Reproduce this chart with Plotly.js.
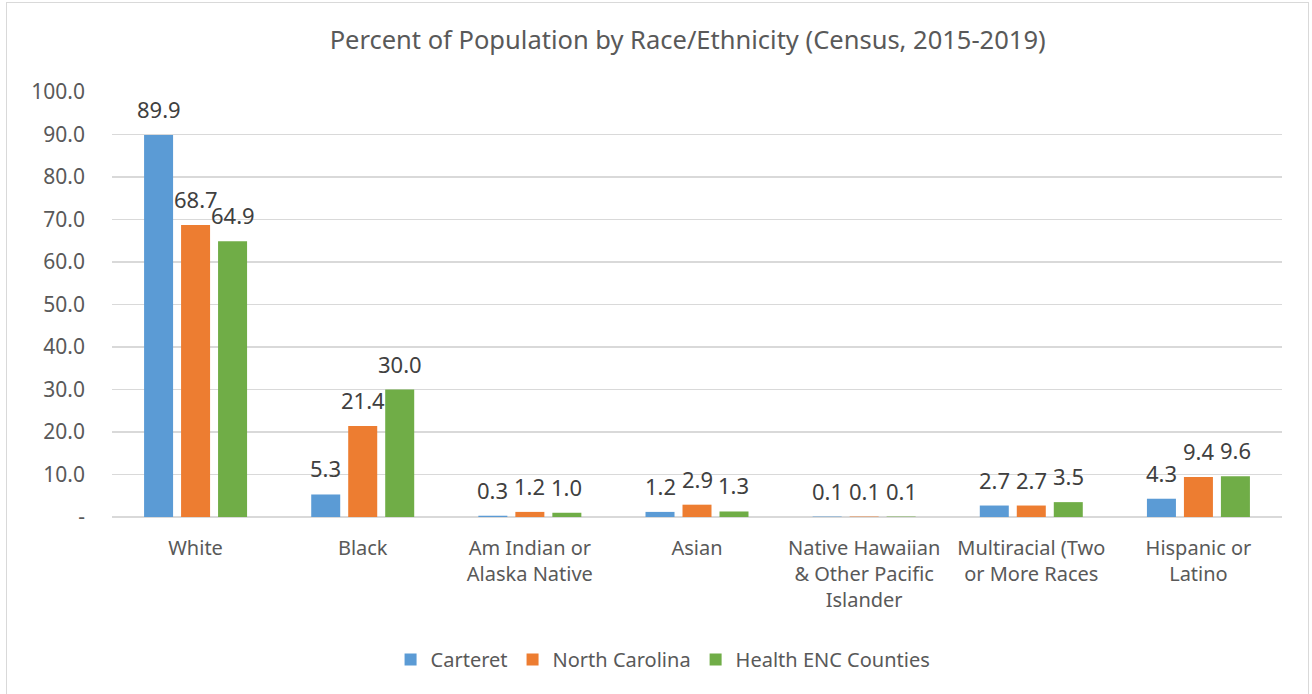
<!DOCTYPE html>
<html><head><meta charset="utf-8">
<script src="https://cdn.plot.ly/plotly-3.0.1.min.js"></script>
<style>
html,body{margin:0;padding:0;background:#fff;overflow:hidden}
#chart{width:1312px;height:694px}
#frame{position:absolute;left:6px;top:2px;width:1301px;height:720px;border:1.5px solid #d9d9d9;pointer-events:none}
</style></head>
<body>
<div id="chart"></div>
<div id="frame"></div>
<script>
const categories = ["White","Black","Am Indian or<br>Alaska Native","Asian","Native Hawaiian<br>& Other Pacific<br>Islander","Multiracial (Two<br>or More Races","Hispanic or<br>Latino"];
const carteret = [89.9, 5.3, 0.3, 1.2, 0.1, 2.7, 4.3];
const northCarolina = [68.7, 21.4, 1.2, 2.9, 0.1, 2.7, 9.4];
const healthENC = [64.9, 30.0, 1.0, 1.3, 0.1, 3.5, 9.6];
const seriesNames = ["Carteret","North Carolina","Health ENC Counties"];
const tickVals = [0,10,20,30,40,50,60,70,80,90,100];
const tickText = ["-","10.0","20.0","30.0","40.0","50.0","60.0","70.0","80.0","90.0","100.0"];
const colors = ["#5b9bd5","#ed7d31","#70ad47"];

const font = "Noto Sans, Open Sans, sans-serif";
const bargap = 0.336;
const series = [carteret, northCarolina, healthENC];
const traces = series.map((vals,i)=>({
  type:"bar", name:seriesNames[i], x:categories, y:vals,
  marker:{color:colors[i]}, hoverinfo:"skip"
}));

const slot = (1-bargap)/series.length;
const annotations = [];
series.forEach((vals,i)=>{
  vals.forEach((v,j)=>{
    annotations.push({
      x: j + (i-(series.length-1)/2)*slot, y: v, xref:"x", yref:"y",
      text: v.toFixed(1), showarrow:false, yanchor:"middle", yshift:26,
      font:{family:font,size:22,color:"#404040"}
    });
  });
});

const layout = {
  width:1312, height:694,
  margin:{l:112,r:30,t:92,b:177},
  paper_bgcolor:"#fff", plot_bgcolor:"#fff",
  font:{family:font,color:"#595959"},
  title:{text:"Percent of Population by Race/Ethnicity (Census, 2015-2019)",
    font:{family:font,size:25.5,color:"#595959"}, x:0.492, xref:"paper", y:0.942, yref:"container", yanchor:"middle"},
  barmode:"group", bargap:bargap, bargroupgap:0.216,
  xaxis:{tickfont:{family:font,size:20,color:"#595959"}, showline:false, ticks:"", automargin:false, ticklabelstandoff:17},
  yaxis:{range:[0,100], tickvals:tickVals, ticktext:tickText,
    tickfont:{family:font,size:21,color:"#595959"},
    showgrid:true, gridcolor:"#d9d9d9", gridwidth:1.3,
    zeroline:true, zerolinecolor:"#d9d9d9", zerolinewidth:2,
    ticks:"", ticklabelstandoff:26, automargin:false},
  legend:{orientation:"h", x:0.471, xanchor:"center", y:-0.335, yanchor:"middle",
    font:{family:font,size:20,color:"#595959"}, itemwidth:30, traceorder:"normal"},
  annotations: annotations,
  showlegend:true
};
Plotly.newPlot("chart", traces, layout, {displayModeBar:false, staticPlot:true});
</script>
</body></html>
